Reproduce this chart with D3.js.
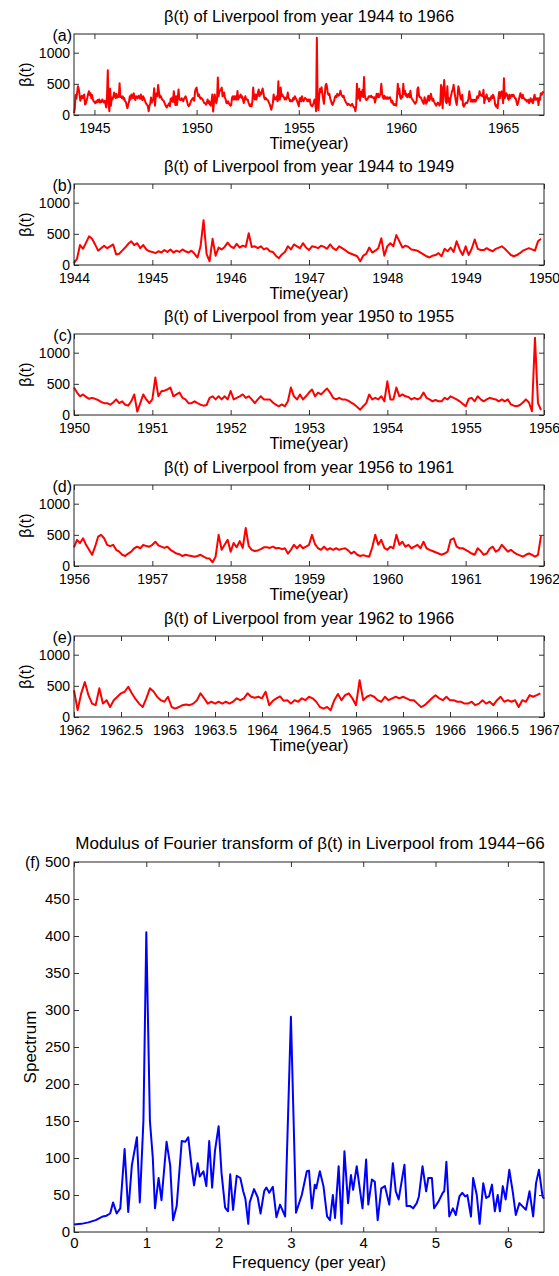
<!DOCTYPE html>
<html><head><meta charset="utf-8">
<script src="https://cdn.jsdelivr.net/npm/d3@7"></script>
<style>
body{margin:0;background:#fff}
svg text{font-family:"Liberation Sans",Arial,Helvetica,sans-serif;fill:#000}
</style>
</head><body><svg id="chart" width="559" height="1276"></svg>
<script>
// ---- data: beta(t), 26 samples per year ----
const samplesPerYear = 26;
const betaB = [ // 1944-1949
30,100,320,260,360,460,420,330,230,270,310,270,300,330,170,180,230,280,340,380,320,350,270,320,250,220,
210,190,220,200,240,210,250,200,230,210,250,220,200,230,180,120,300,720,180,60,420,150,280,250,290,360,
300,270,340,280,310,290,510,290,300,270,300,250,270,220,210,150,110,170,210,300,250,330,300,270,350,280,
240,300,290,270,310,290,260,330,270,240,300,270,240,200,180,160,140,60,150,180,280,200,230,270,430,150,
300,350,300,480,380,280,310,290,250,240,230,200,170,140,120,150,160,190,140,260,220,280,210,380,250,160,
300,160,260,410,260,240,240,270,240,220,260,280,300,260,210,160,140,160,190,230,250,270,250,230,380,420];
const betaC = [ // 1950-1955
440,360,300,330,290,260,275,260,240,210,190,190,165,200,250,190,220,165,150,220,330,55,190,330,250,190,
250,600,300,380,390,410,440,300,330,360,275,250,190,190,220,190,165,150,160,275,300,250,300,250,300,250,
385,250,275,300,330,275,300,250,190,250,300,250,250,250,200,165,140,170,140,220,440,300,250,330,250,300,
360,410,300,360,330,380,425,360,275,250,275,250,250,230,200,170,130,85,140,190,330,250,275,250,300,220,
540,250,250,440,300,330,300,290,250,275,250,275,360,275,250,220,240,220,220,275,250,300,275,250,220,180,
140,260,275,220,300,250,220,250,275,260,250,220,250,220,250,170,150,140,160,200,250,200,60,1240,190,80];
const betaD = [ // 1956-1961
300,420,370,445,340,260,180,310,470,500,445,340,320,340,260,230,180,160,200,230,285,310,285,340,320,310,
340,390,330,310,290,310,260,230,200,190,160,180,170,160,150,160,180,150,125,120,60,150,500,260,340,420,
230,370,300,400,290,610,320,260,240,250,270,300,300,290,310,285,290,270,285,200,260,340,285,340,285,310,
340,500,350,285,260,310,260,285,260,285,260,275,285,250,200,230,180,160,175,160,150,300,500,340,420,290,
260,310,285,500,340,390,310,340,285,310,340,285,390,285,260,240,220,200,180,200,230,420,445,310,285,285,
260,230,200,180,285,240,180,200,280,310,230,260,340,285,230,260,220,190,170,150,180,200,180,150,180,480];
const betaE = [ // 1962-1966
430,110,380,560,350,215,190,460,215,270,160,270,325,380,405,485,380,290,215,160,300,460,410,325,270,245,
325,160,135,160,190,200,190,215,270,380,300,215,245,215,245,215,245,215,245,300,270,300,380,325,310,325,
300,405,190,260,300,330,260,270,215,270,245,300,270,325,300,245,160,135,160,110,270,370,270,350,380,300,
190,590,270,325,350,325,270,245,325,270,300,325,300,325,300,270,270,215,160,190,245,300,350,300,270,325,
270,270,245,245,215,215,245,190,215,270,215,245,190,270,325,245,270,245,270,160,270,245,350,325,350,380];

// ---- spectrum ----
const specFreq = [0,0.1,0.2,0.3,0.4,0.45,0.5,0.54,0.59,0.64,0.70,0.75,0.80,0.87,0.91,0.96,1.00,1.05,1.09,1.12,1.17,1.21,1.28,1.33,1.37,1.42,1.49,1.54,1.58,1.63,1.66,1.71,1.74,1.79,1.83,1.87,1.91,1.95,2.00,2.04,2.09,2.13,2.16,2.20,2.25,2.30,2.34,2.37,2.41,2.43,2.49,2.54,2.58,2.63,2.66,2.70,2.75,2.80,2.85,2.92,3.00,3.07,3.15,3.22,3.25,3.29,3.33,3.35,3.40,3.45,3.50,3.54,3.58,3.61,3.66,3.70,3.74,3.79,3.83,3.86,3.91,3.96,3.99,4.04,4.07,4.12,4.16,4.20,4.25,4.30,4.36,4.41,4.45,4.49,4.57,4.60,4.65,4.69,4.74,4.77,4.82,4.87,4.90,4.95,4.98,5.04,5.10,5.12,5.15,5.19,5.24,5.28,5.33,5.37,5.41,5.44,5.49,5.52,5.57,5.61,5.66,5.70,5.74,5.78,5.82,5.86,5.89,5.93,5.97,6.02,6.07,6.11,6.16,6.20,6.25,6.30,6.35,6.39,6.43,6.48,6.5];
const specVal = [10,11,13,16,21,22,25,40,25,32,112,27,90,128,40,150,405,150,100,32,73,43,122,90,16,35,123,122,128,85,63,93,75,82,62,123,60,110,143,80,33,28,78,30,76,73,55,45,11,40,58,47,25,55,60,53,61,20,37,21,291,26,50,82,83,32,64,59,82,62,21,16,50,19,89,11,109,39,77,57,89,53,32,98,37,71,68,16,59,62,37,93,55,44,91,35,35,32,39,48,89,55,73,73,32,41,53,55,95,21,32,23,48,53,48,50,21,73,50,11,66,46,48,64,28,50,28,62,44,84,53,23,39,35,30,55,21,66,84,48,45];

// ---- ticks & labels ----
const betaYTicks = [0,500,1000];
const ticksA = [1945,1950,1955,1960,1965];
const ticksB = [1944,1945,1946,1947,1948,1949,1950];
const ticksC = [1950,1951,1952,1953,1954,1955,1956];
const ticksD = [1956,1957,1958,1959,1960,1961,1962];
const ticksE = [1962,1962.5,1963,1963.5,1964,1964.5,1965,1965.5,1966,1966.5,1967];
const specXTicks = [0,1,2,3,4,5,6];
const specYTicks = [0,50,100,150,200,250,300,350,400,450,500];

const svg = d3.select("#chart");
const L = 74, R = 544, H = 81;

function frame(g, x, y, xt, yt, xfmt, tickLen, fsTick, xpad){
  g.append("g").attr("transform",`translate(0,${y.range()[0]})`)
    .call(d3.axisBottom(x).tickValues(xt).tickFormat(xfmt).tickSize(-tickLen).tickSizeOuter(0).tickPadding(xpad))
    .call(s=>{s.select(".domain").remove(); s.selectAll("text").style("font-size",fsTick+"px");});
  g.append("g").attr("transform",`translate(0,${y.range()[1]})`)
    .call(d3.axisTop(x).tickValues(xt).tickFormat("").tickSize(-tickLen).tickSizeOuter(0))
    .call(s=>s.select(".domain").remove());
  g.append("g").attr("transform",`translate(${L},0)`)
    .call(d3.axisLeft(y).tickValues(yt).tickFormat(d=>String(d)).tickSize(-tickLen).tickSizeOuter(0).tickPadding(4))
    .call(s=>{s.select(".domain").remove(); s.selectAll("text").style("font-size",fsTick+"px");});
  g.append("g").attr("transform",`translate(${R},0)`)
    .call(d3.axisRight(y).tickValues(yt).tickFormat("").tickSize(-tickLen).tickSizeOuter(0))
    .call(s=>s.select(".domain").remove());
  g.selectAll(".tick line").attr("stroke","#333");
  g.append("rect").attr("x",L).attr("y",y.range()[1]).attr("width",R-L).attr("height",y.range()[0]-y.range()[1])
    .attr("fill","none").attr("stroke","#222").attr("stroke-width",1);
}

function toSeries(arr, start){ return arr.map((v,i)=>({t:start+i/samplesPerYear, v})); }
const seriesB = toSeries(betaB,1944), seriesC = toSeries(betaC,1950),
      seriesD = toSeries(betaD,1956), seriesE = toSeries(betaE,1962);
const seriesA = seriesB.concat(seriesC, seriesD, seriesE);

const panels = [
  {lab:"(a)", title:"β(t) of Liverpool from year 1944 to 1966", dom:[1944,1967], ticks:ticksA, data:seriesA, top:34},
  {lab:"(b)", title:"β(t) of Liverpool from year 1944 to 1949", dom:[1944,1950], ticks:ticksB, data:seriesB, top:184},
  {lab:"(c)", title:"β(t) of Liverpool from year 1950 to 1955", dom:[1950,1956], ticks:ticksC, data:seriesC, top:334},
  {lab:"(d)", title:"β(t) of Liverpool from year 1956 to 1961", dom:[1956,1962], ticks:ticksD, data:seriesD, top:485},
  {lab:"(e)", title:"β(t) of Liverpool from year 1962 to 1966", dom:[1962,1967], ticks:ticksE, data:seriesE, top:636}
];

panels.forEach(p=>{
  const g = svg.append("g");
  const x = d3.scaleLinear().domain(p.dom).range([L,R]);
  const y = d3.scaleLinear().domain([0,1300]).range([p.top+H,p.top]);
  g.append("path").datum(p.data.filter(d=>d.t<=p.dom[1]))
    .attr("d", d3.line().x(d=>x(d.t)).y(d=>y(d.v)))
    .attr("fill","none").attr("stroke","#ff0000").attr("stroke-width",2).attr("stroke-linejoin","round");
  frame(g, x, y, p.ticks, betaYTicks, d=>String(d), 5, 14, 8);
  g.append("text").attr("x",(L+R)/2).attr("y",p.top-12).attr("text-anchor","middle").style("font-size","16.5px").text(p.title);
  g.append("text").attr("x",(L+R)/2).attr("y",p.top+H+34).attr("text-anchor","middle").style("font-size","16.5px").text("Time(year)");
  g.append("text").attr("transform",`translate(31,${p.top+H/2}) rotate(-90)`).attr("text-anchor","middle").style("font-size","16px").text("β(t)");
  g.append("text").attr("x",72).attr("y",p.top+7).attr("text-anchor","end").style("font-size","16px").text(p.lab);
});

// ---- spectrum panel ----
{
  const top = 862, bottom = 1232;
  const g = svg.append("g");
  const x = d3.scaleLinear().domain([0,6.5]).range([L,R]);
  const y = d3.scaleLinear().domain([0,500]).range([bottom,top]);
  const data = specFreq.map((f,i)=>({f, v:specVal[i]}));
  g.append("path").datum(data).attr("d", d3.line().x(d=>x(d.f)).y(d=>y(d.v)))
    .attr("fill","none").attr("stroke","#0000ff").attr("stroke-width",2).attr("stroke-linejoin","round");
  frame(g, x, y, specXTicks, specYTicks, d=>String(d), 5, 15, 5);
  g.append("text").attr("x",(L+R)/2+1).attr("y",top-13).attr("text-anchor","middle").style("font-size","17px")
    .text("Modulus of Fourier transform of β(t) in Liverpool from 1944\u221266");
  g.append("text").attr("x",(L+R)/2).attr("y",bottom+36).attr("text-anchor","middle").style("font-size","16.5px").text("Frequency (per year)");
  g.append("text").attr("transform",`translate(36,${(top+bottom)/2}) rotate(-90)`).attr("text-anchor","middle").style("font-size","17px").text("Spectrum");
  g.append("text").attr("x",40).attr("y",top+6).attr("text-anchor","end").style("font-size","16px").text("(f)");
}
</script>
</body></html>
